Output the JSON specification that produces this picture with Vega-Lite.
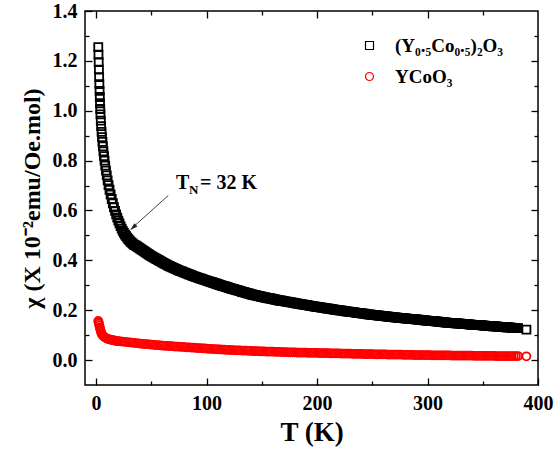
{
  "$schema": "https://vega.github.io/schema/vega-lite/v6.json",
  "width": 453,
  "height": 374,
  "autosize": {"type": "none"},
  "padding": {"left": 85, "top": 11, "right": 17, "bottom": 74},
  "config": {
    "font": "Liberation Serif",
    "view": {"stroke": "#000000", "strokeWidth": 1.5},
    "axis": {"grid": false, "domain": false, "tickColor": "#000000", "tickWidth": 1.3, "labelColor": "#000000", "labelFont": "Liberation Serif", "labelFontWeight": "bold", "labelFontSize": 20, "titleFont": "Liberation Serif", "titleFontWeight": "bold", "titleColor": "#000000", "labelFlush": false, "labelOverlap": false, "labelBound": false}
  },
  "data": {"values": [
{"s":"(Y0.5Co0.5)2O3","T":2.0,"v":1.255},{"s":"(Y0.5Co0.5)2O3","T":2.2,"v":1.225},{"s":"(Y0.5Co0.5)2O3","T":2.4,"v":1.195},{"s":"(Y0.5Co0.5)2O3","T":2.6,"v":1.165},{"s":"(Y0.5Co0.5)2O3","T":2.8,"v":1.135},{"s":"(Y0.5Co0.5)2O3","T":3.0,"v":1.107},{"s":"(Y0.5Co0.5)2O3","T":3.2,"v":1.080},{"s":"(Y0.5Co0.5)2O3","T":3.4,"v":1.055},{"s":"(Y0.5Co0.5)2O3","T":3.6,"v":1.030},{"s":"(Y0.5Co0.5)2O3","T":3.8,"v":1.007},
{"s":"(Y0.5Co0.5)2O3","T":4.0,"v":0.985},{"s":"(Y0.5Co0.5)2O3","T":4.3,"v":0.960},{"s":"(Y0.5Co0.5)2O3","T":4.6,"v":0.938},{"s":"(Y0.5Co0.5)2O3","T":5.0,"v":0.915},{"s":"(Y0.5Co0.5)2O3","T":5.4,"v":0.894},{"s":"(Y0.5Co0.5)2O3","T":5.8,"v":0.875},{"s":"(Y0.5Co0.5)2O3","T":6.2,"v":0.857},{"s":"(Y0.5Co0.5)2O3","T":6.7,"v":0.837},{"s":"(Y0.5Co0.5)2O3","T":7.2,"v":0.818},{"s":"(Y0.5Co0.5)2O3","T":7.7,"v":0.800},
{"s":"(Y0.5Co0.5)2O3","T":8.3,"v":0.780},{"s":"(Y0.5Co0.5)2O3","T":9.0,"v":0.760},{"s":"(Y0.5Co0.5)2O3","T":9.7,"v":0.741},{"s":"(Y0.5Co0.5)2O3","T":10.5,"v":0.721},{"s":"(Y0.5Co0.5)2O3","T":11.3,"v":0.702},{"s":"(Y0.5Co0.5)2O3","T":12.2,"v":0.683},{"s":"(Y0.5Co0.5)2O3","T":13.2,"v":0.664},{"s":"(Y0.5Co0.5)2O3","T":14.2,"v":0.646},{"s":"(Y0.5Co0.5)2O3","T":15.2,"v":0.629},{"s":"(Y0.5Co0.5)2O3","T":16.2,"v":0.613},
{"s":"(Y0.5Co0.5)2O3","T":17.2,"v":0.598},{"s":"(Y0.5Co0.5)2O3","T":18.2,"v":0.584},{"s":"(Y0.5Co0.5)2O3","T":19.2,"v":0.571},{"s":"(Y0.5Co0.5)2O3","T":20.2,"v":0.559},{"s":"(Y0.5Co0.5)2O3","T":21.2,"v":0.548},{"s":"(Y0.5Co0.5)2O3","T":22.2,"v":0.537},{"s":"(Y0.5Co0.5)2O3","T":23.2,"v":0.527},{"s":"(Y0.5Co0.5)2O3","T":24.2,"v":0.518},{"s":"(Y0.5Co0.5)2O3","T":25.2,"v":0.510},{"s":"(Y0.5Co0.5)2O3","T":26.2,"v":0.503},
{"s":"(Y0.5Co0.5)2O3","T":27.2,"v":0.497},{"s":"(Y0.5Co0.5)2O3","T":28.2,"v":0.491},{"s":"(Y0.5Co0.5)2O3","T":29.2,"v":0.485},{"s":"(Y0.5Co0.5)2O3","T":30.2,"v":0.480},{"s":"(Y0.5Co0.5)2O3","T":31.2,"v":0.475},{"s":"(Y0.5Co0.5)2O3","T":32.2,"v":0.471},{"s":"(Y0.5Co0.5)2O3","T":33.2,"v":0.467},{"s":"(Y0.5Co0.5)2O3","T":34.2,"v":0.463},
{"s":"(Y0.5Co0.5)2O3","T":35,"v":0.461},{"s":"(Y0.5Co0.5)2O3","T":36,"v":0.459},{"s":"(Y0.5Co0.5)2O3","T":37,"v":0.456},{"s":"(Y0.5Co0.5)2O3","T":38,"v":0.453},{"s":"(Y0.5Co0.5)2O3","T":39,"v":0.450},{"s":"(Y0.5Co0.5)2O3","T":40,"v":0.447},{"s":"(Y0.5Co0.5)2O3","T":41,"v":0.444},{"s":"(Y0.5Co0.5)2O3","T":42,"v":0.441},{"s":"(Y0.5Co0.5)2O3","T":43,"v":0.438},{"s":"(Y0.5Co0.5)2O3","T":44,"v":0.435},
{"s":"(Y0.5Co0.5)2O3","T":45,"v":0.432},{"s":"(Y0.5Co0.5)2O3","T":46,"v":0.429},{"s":"(Y0.5Co0.5)2O3","T":47,"v":0.426},{"s":"(Y0.5Co0.5)2O3","T":48,"v":0.423},{"s":"(Y0.5Co0.5)2O3","T":49,"v":0.420},{"s":"(Y0.5Co0.5)2O3","T":50,"v":0.417},{"s":"(Y0.5Co0.5)2O3","T":51,"v":0.415},{"s":"(Y0.5Co0.5)2O3","T":52,"v":0.412},{"s":"(Y0.5Co0.5)2O3","T":53,"v":0.410},{"s":"(Y0.5Co0.5)2O3","T":54,"v":0.407},
{"s":"(Y0.5Co0.5)2O3","T":55,"v":0.405},{"s":"(Y0.5Co0.5)2O3","T":56,"v":0.402},{"s":"(Y0.5Co0.5)2O3","T":57,"v":0.400},{"s":"(Y0.5Co0.5)2O3","T":58,"v":0.397},{"s":"(Y0.5Co0.5)2O3","T":59,"v":0.395},{"s":"(Y0.5Co0.5)2O3","T":60,"v":0.392},{"s":"(Y0.5Co0.5)2O3","T":61,"v":0.390},{"s":"(Y0.5Co0.5)2O3","T":62,"v":0.387},{"s":"(Y0.5Co0.5)2O3","T":63,"v":0.385},{"s":"(Y0.5Co0.5)2O3","T":64,"v":0.383},
{"s":"(Y0.5Co0.5)2O3","T":65,"v":0.380},{"s":"(Y0.5Co0.5)2O3","T":66,"v":0.378},{"s":"(Y0.5Co0.5)2O3","T":67,"v":0.376},{"s":"(Y0.5Co0.5)2O3","T":68,"v":0.374},{"s":"(Y0.5Co0.5)2O3","T":69,"v":0.372},{"s":"(Y0.5Co0.5)2O3","T":70,"v":0.370},{"s":"(Y0.5Co0.5)2O3","T":71,"v":0.368},{"s":"(Y0.5Co0.5)2O3","T":72,"v":0.366},{"s":"(Y0.5Co0.5)2O3","T":73,"v":0.364},{"s":"(Y0.5Co0.5)2O3","T":74,"v":0.362},
{"s":"(Y0.5Co0.5)2O3","T":75,"v":0.360},{"s":"(Y0.5Co0.5)2O3","T":76,"v":0.358},{"s":"(Y0.5Co0.5)2O3","T":77,"v":0.357},{"s":"(Y0.5Co0.5)2O3","T":78,"v":0.355},{"s":"(Y0.5Co0.5)2O3","T":79,"v":0.353},{"s":"(Y0.5Co0.5)2O3","T":80,"v":0.351},{"s":"(Y0.5Co0.5)2O3","T":81,"v":0.350},{"s":"(Y0.5Co0.5)2O3","T":82,"v":0.348},{"s":"(Y0.5Co0.5)2O3","T":83,"v":0.346},{"s":"(Y0.5Co0.5)2O3","T":84,"v":0.344},
{"s":"(Y0.5Co0.5)2O3","T":85,"v":0.343},{"s":"(Y0.5Co0.5)2O3","T":86,"v":0.341},{"s":"(Y0.5Co0.5)2O3","T":87,"v":0.339},{"s":"(Y0.5Co0.5)2O3","T":88,"v":0.337},{"s":"(Y0.5Co0.5)2O3","T":89,"v":0.336},{"s":"(Y0.5Co0.5)2O3","T":90,"v":0.334},{"s":"(Y0.5Co0.5)2O3","T":91,"v":0.333},{"s":"(Y0.5Co0.5)2O3","T":92,"v":0.331},{"s":"(Y0.5Co0.5)2O3","T":93,"v":0.330},{"s":"(Y0.5Co0.5)2O3","T":94,"v":0.328},
{"s":"(Y0.5Co0.5)2O3","T":95,"v":0.327},{"s":"(Y0.5Co0.5)2O3","T":96,"v":0.325},{"s":"(Y0.5Co0.5)2O3","T":97,"v":0.324},{"s":"(Y0.5Co0.5)2O3","T":98,"v":0.322},{"s":"(Y0.5Co0.5)2O3","T":99,"v":0.321},{"s":"(Y0.5Co0.5)2O3","T":100,"v":0.319},{"s":"(Y0.5Co0.5)2O3","T":101,"v":0.318},{"s":"(Y0.5Co0.5)2O3","T":102,"v":0.316},{"s":"(Y0.5Co0.5)2O3","T":103,"v":0.315},{"s":"(Y0.5Co0.5)2O3","T":104,"v":0.313},
{"s":"(Y0.5Co0.5)2O3","T":105,"v":0.312},{"s":"(Y0.5Co0.5)2O3","T":106,"v":0.310},{"s":"(Y0.5Co0.5)2O3","T":107,"v":0.309},{"s":"(Y0.5Co0.5)2O3","T":108,"v":0.307},{"s":"(Y0.5Co0.5)2O3","T":109,"v":0.306},{"s":"(Y0.5Co0.5)2O3","T":110,"v":0.304},{"s":"(Y0.5Co0.5)2O3","T":111,"v":0.303},{"s":"(Y0.5Co0.5)2O3","T":112,"v":0.301},{"s":"(Y0.5Co0.5)2O3","T":113,"v":0.300},{"s":"(Y0.5Co0.5)2O3","T":114,"v":0.298},
{"s":"(Y0.5Co0.5)2O3","T":115,"v":0.297},{"s":"(Y0.5Co0.5)2O3","T":116,"v":0.296},{"s":"(Y0.5Co0.5)2O3","T":117,"v":0.295},{"s":"(Y0.5Co0.5)2O3","T":118,"v":0.293},{"s":"(Y0.5Co0.5)2O3","T":119,"v":0.292},{"s":"(Y0.5Co0.5)2O3","T":120,"v":0.290},{"s":"(Y0.5Co0.5)2O3","T":121,"v":0.289},{"s":"(Y0.5Co0.5)2O3","T":122,"v":0.287},{"s":"(Y0.5Co0.5)2O3","T":123,"v":0.286},{"s":"(Y0.5Co0.5)2O3","T":124,"v":0.285},
{"s":"(Y0.5Co0.5)2O3","T":125,"v":0.284},{"s":"(Y0.5Co0.5)2O3","T":126,"v":0.282},{"s":"(Y0.5Co0.5)2O3","T":127,"v":0.281},{"s":"(Y0.5Co0.5)2O3","T":128,"v":0.280},{"s":"(Y0.5Co0.5)2O3","T":129,"v":0.279},{"s":"(Y0.5Co0.5)2O3","T":130,"v":0.277},{"s":"(Y0.5Co0.5)2O3","T":131,"v":0.276},{"s":"(Y0.5Co0.5)2O3","T":132,"v":0.274},{"s":"(Y0.5Co0.5)2O3","T":133,"v":0.273},{"s":"(Y0.5Co0.5)2O3","T":134,"v":0.272},
{"s":"(Y0.5Co0.5)2O3","T":135,"v":0.271},{"s":"(Y0.5Co0.5)2O3","T":136,"v":0.269},{"s":"(Y0.5Co0.5)2O3","T":137,"v":0.268},{"s":"(Y0.5Co0.5)2O3","T":138,"v":0.267},{"s":"(Y0.5Co0.5)2O3","T":139,"v":0.266},{"s":"(Y0.5Co0.5)2O3","T":140,"v":0.264},{"s":"(Y0.5Co0.5)2O3","T":141,"v":0.263},{"s":"(Y0.5Co0.5)2O3","T":142,"v":0.262},{"s":"(Y0.5Co0.5)2O3","T":143,"v":0.261},{"s":"(Y0.5Co0.5)2O3","T":144,"v":0.260},
{"s":"(Y0.5Co0.5)2O3","T":145,"v":0.259},{"s":"(Y0.5Co0.5)2O3","T":146,"v":0.258},{"s":"(Y0.5Co0.5)2O3","T":147,"v":0.257},{"s":"(Y0.5Co0.5)2O3","T":148,"v":0.256},{"s":"(Y0.5Co0.5)2O3","T":149,"v":0.255},{"s":"(Y0.5Co0.5)2O3","T":150,"v":0.254},{"s":"(Y0.5Co0.5)2O3","T":151,"v":0.253},{"s":"(Y0.5Co0.5)2O3","T":152,"v":0.252},{"s":"(Y0.5Co0.5)2O3","T":153,"v":0.251},{"s":"(Y0.5Co0.5)2O3","T":154,"v":0.250},
{"s":"(Y0.5Co0.5)2O3","T":155,"v":0.249},{"s":"(Y0.5Co0.5)2O3","T":156,"v":0.248},{"s":"(Y0.5Co0.5)2O3","T":157,"v":0.248},{"s":"(Y0.5Co0.5)2O3","T":158,"v":0.247},{"s":"(Y0.5Co0.5)2O3","T":159,"v":0.246},{"s":"(Y0.5Co0.5)2O3","T":160,"v":0.245},{"s":"(Y0.5Co0.5)2O3","T":161,"v":0.244},{"s":"(Y0.5Co0.5)2O3","T":162,"v":0.243},{"s":"(Y0.5Co0.5)2O3","T":163,"v":0.242},{"s":"(Y0.5Co0.5)2O3","T":164,"v":0.241},
{"s":"(Y0.5Co0.5)2O3","T":165,"v":0.240},{"s":"(Y0.5Co0.5)2O3","T":166,"v":0.239},{"s":"(Y0.5Co0.5)2O3","T":167,"v":0.239},{"s":"(Y0.5Co0.5)2O3","T":168,"v":0.238},{"s":"(Y0.5Co0.5)2O3","T":169,"v":0.237},{"s":"(Y0.5Co0.5)2O3","T":170,"v":0.236},{"s":"(Y0.5Co0.5)2O3","T":171,"v":0.235},{"s":"(Y0.5Co0.5)2O3","T":172,"v":0.234},{"s":"(Y0.5Co0.5)2O3","T":173,"v":0.234},{"s":"(Y0.5Co0.5)2O3","T":174,"v":0.233},
{"s":"(Y0.5Co0.5)2O3","T":175,"v":0.232},{"s":"(Y0.5Co0.5)2O3","T":176,"v":0.231},{"s":"(Y0.5Co0.5)2O3","T":177,"v":0.231},{"s":"(Y0.5Co0.5)2O3","T":178,"v":0.230},{"s":"(Y0.5Co0.5)2O3","T":179,"v":0.229},{"s":"(Y0.5Co0.5)2O3","T":180,"v":0.228},{"s":"(Y0.5Co0.5)2O3","T":181,"v":0.227},{"s":"(Y0.5Co0.5)2O3","T":182,"v":0.226},{"s":"(Y0.5Co0.5)2O3","T":183,"v":0.226},{"s":"(Y0.5Co0.5)2O3","T":184,"v":0.225},
{"s":"(Y0.5Co0.5)2O3","T":185,"v":0.224},{"s":"(Y0.5Co0.5)2O3","T":186,"v":0.223},{"s":"(Y0.5Co0.5)2O3","T":187,"v":0.223},{"s":"(Y0.5Co0.5)2O3","T":188,"v":0.222},{"s":"(Y0.5Co0.5)2O3","T":189,"v":0.221},{"s":"(Y0.5Co0.5)2O3","T":190,"v":0.220},{"s":"(Y0.5Co0.5)2O3","T":191,"v":0.220},{"s":"(Y0.5Co0.5)2O3","T":192,"v":0.219},{"s":"(Y0.5Co0.5)2O3","T":193,"v":0.218},{"s":"(Y0.5Co0.5)2O3","T":194,"v":0.217},
{"s":"(Y0.5Co0.5)2O3","T":195,"v":0.217},{"s":"(Y0.5Co0.5)2O3","T":196,"v":0.216},{"s":"(Y0.5Co0.5)2O3","T":197,"v":0.215},{"s":"(Y0.5Co0.5)2O3","T":198,"v":0.214},{"s":"(Y0.5Co0.5)2O3","T":199,"v":0.214},{"s":"(Y0.5Co0.5)2O3","T":200,"v":0.213},{"s":"(Y0.5Co0.5)2O3","T":201,"v":0.213},{"s":"(Y0.5Co0.5)2O3","T":202,"v":0.212},{"s":"(Y0.5Co0.5)2O3","T":203,"v":0.211},{"s":"(Y0.5Co0.5)2O3","T":204,"v":0.210},
{"s":"(Y0.5Co0.5)2O3","T":205,"v":0.210},{"s":"(Y0.5Co0.5)2O3","T":206,"v":0.209},{"s":"(Y0.5Co0.5)2O3","T":207,"v":0.208},{"s":"(Y0.5Co0.5)2O3","T":208,"v":0.207},{"s":"(Y0.5Co0.5)2O3","T":209,"v":0.207},{"s":"(Y0.5Co0.5)2O3","T":210,"v":0.206},{"s":"(Y0.5Co0.5)2O3","T":211,"v":0.206},{"s":"(Y0.5Co0.5)2O3","T":212,"v":0.205},{"s":"(Y0.5Co0.5)2O3","T":213,"v":0.204},{"s":"(Y0.5Co0.5)2O3","T":214,"v":0.203},
{"s":"(Y0.5Co0.5)2O3","T":215,"v":0.203},{"s":"(Y0.5Co0.5)2O3","T":216,"v":0.202},{"s":"(Y0.5Co0.5)2O3","T":217,"v":0.201},{"s":"(Y0.5Co0.5)2O3","T":218,"v":0.200},{"s":"(Y0.5Co0.5)2O3","T":219,"v":0.200},{"s":"(Y0.5Co0.5)2O3","T":220,"v":0.199},{"s":"(Y0.5Co0.5)2O3","T":221,"v":0.199},{"s":"(Y0.5Co0.5)2O3","T":222,"v":0.198},{"s":"(Y0.5Co0.5)2O3","T":223,"v":0.198},{"s":"(Y0.5Co0.5)2O3","T":224,"v":0.197},
{"s":"(Y0.5Co0.5)2O3","T":225,"v":0.196},{"s":"(Y0.5Co0.5)2O3","T":226,"v":0.195},{"s":"(Y0.5Co0.5)2O3","T":227,"v":0.195},{"s":"(Y0.5Co0.5)2O3","T":228,"v":0.194},{"s":"(Y0.5Co0.5)2O3","T":229,"v":0.194},{"s":"(Y0.5Co0.5)2O3","T":230,"v":0.193},{"s":"(Y0.5Co0.5)2O3","T":231,"v":0.193},{"s":"(Y0.5Co0.5)2O3","T":232,"v":0.192},{"s":"(Y0.5Co0.5)2O3","T":233,"v":0.192},{"s":"(Y0.5Co0.5)2O3","T":234,"v":0.191},
{"s":"(Y0.5Co0.5)2O3","T":235,"v":0.190},{"s":"(Y0.5Co0.5)2O3","T":236,"v":0.189},{"s":"(Y0.5Co0.5)2O3","T":237,"v":0.189},{"s":"(Y0.5Co0.5)2O3","T":238,"v":0.188},{"s":"(Y0.5Co0.5)2O3","T":239,"v":0.188},{"s":"(Y0.5Co0.5)2O3","T":240,"v":0.187},{"s":"(Y0.5Co0.5)2O3","T":241,"v":0.187},{"s":"(Y0.5Co0.5)2O3","T":242,"v":0.186},{"s":"(Y0.5Co0.5)2O3","T":243,"v":0.186},{"s":"(Y0.5Co0.5)2O3","T":244,"v":0.185},
{"s":"(Y0.5Co0.5)2O3","T":245,"v":0.184},{"s":"(Y0.5Co0.5)2O3","T":246,"v":0.183},{"s":"(Y0.5Co0.5)2O3","T":247,"v":0.183},{"s":"(Y0.5Co0.5)2O3","T":248,"v":0.182},{"s":"(Y0.5Co0.5)2O3","T":249,"v":0.182},{"s":"(Y0.5Co0.5)2O3","T":250,"v":0.181},{"s":"(Y0.5Co0.5)2O3","T":251,"v":0.181},{"s":"(Y0.5Co0.5)2O3","T":252,"v":0.180},{"s":"(Y0.5Co0.5)2O3","T":253,"v":0.180},{"s":"(Y0.5Co0.5)2O3","T":254,"v":0.179},
{"s":"(Y0.5Co0.5)2O3","T":255,"v":0.179},{"s":"(Y0.5Co0.5)2O3","T":256,"v":0.178},{"s":"(Y0.5Co0.5)2O3","T":257,"v":0.178},{"s":"(Y0.5Co0.5)2O3","T":258,"v":0.177},{"s":"(Y0.5Co0.5)2O3","T":259,"v":0.177},{"s":"(Y0.5Co0.5)2O3","T":260,"v":0.176},{"s":"(Y0.5Co0.5)2O3","T":261,"v":0.176},{"s":"(Y0.5Co0.5)2O3","T":262,"v":0.175},{"s":"(Y0.5Co0.5)2O3","T":263,"v":0.175},{"s":"(Y0.5Co0.5)2O3","T":264,"v":0.174},
{"s":"(Y0.5Co0.5)2O3","T":265,"v":0.174},{"s":"(Y0.5Co0.5)2O3","T":266,"v":0.173},{"s":"(Y0.5Co0.5)2O3","T":267,"v":0.173},{"s":"(Y0.5Co0.5)2O3","T":268,"v":0.172},{"s":"(Y0.5Co0.5)2O3","T":269,"v":0.172},{"s":"(Y0.5Co0.5)2O3","T":270,"v":0.171},{"s":"(Y0.5Co0.5)2O3","T":271,"v":0.171},{"s":"(Y0.5Co0.5)2O3","T":272,"v":0.170},{"s":"(Y0.5Co0.5)2O3","T":273,"v":0.170},{"s":"(Y0.5Co0.5)2O3","T":274,"v":0.169},
{"s":"(Y0.5Co0.5)2O3","T":275,"v":0.169},{"s":"(Y0.5Co0.5)2O3","T":276,"v":0.169},{"s":"(Y0.5Co0.5)2O3","T":277,"v":0.168},{"s":"(Y0.5Co0.5)2O3","T":278,"v":0.168},{"s":"(Y0.5Co0.5)2O3","T":279,"v":0.167},{"s":"(Y0.5Co0.5)2O3","T":280,"v":0.167},{"s":"(Y0.5Co0.5)2O3","T":281,"v":0.166},{"s":"(Y0.5Co0.5)2O3","T":282,"v":0.166},{"s":"(Y0.5Co0.5)2O3","T":283,"v":0.165},{"s":"(Y0.5Co0.5)2O3","T":284,"v":0.165},
{"s":"(Y0.5Co0.5)2O3","T":285,"v":0.164},{"s":"(Y0.5Co0.5)2O3","T":286,"v":0.164},{"s":"(Y0.5Co0.5)2O3","T":287,"v":0.164},{"s":"(Y0.5Co0.5)2O3","T":288,"v":0.164},{"s":"(Y0.5Co0.5)2O3","T":289,"v":0.163},{"s":"(Y0.5Co0.5)2O3","T":290,"v":0.163},{"s":"(Y0.5Co0.5)2O3","T":291,"v":0.162},{"s":"(Y0.5Co0.5)2O3","T":292,"v":0.162},{"s":"(Y0.5Co0.5)2O3","T":293,"v":0.161},{"s":"(Y0.5Co0.5)2O3","T":294,"v":0.161},
{"s":"(Y0.5Co0.5)2O3","T":295,"v":0.160},{"s":"(Y0.5Co0.5)2O3","T":296,"v":0.160},{"s":"(Y0.5Co0.5)2O3","T":297,"v":0.159},{"s":"(Y0.5Co0.5)2O3","T":298,"v":0.159},{"s":"(Y0.5Co0.5)2O3","T":299,"v":0.158},{"s":"(Y0.5Co0.5)2O3","T":300,"v":0.158},{"s":"(Y0.5Co0.5)2O3","T":301,"v":0.157},{"s":"(Y0.5Co0.5)2O3","T":302,"v":0.157},{"s":"(Y0.5Co0.5)2O3","T":303,"v":0.157},{"s":"(Y0.5Co0.5)2O3","T":304,"v":0.157},
{"s":"(Y0.5Co0.5)2O3","T":305,"v":0.156},{"s":"(Y0.5Co0.5)2O3","T":306,"v":0.156},{"s":"(Y0.5Co0.5)2O3","T":307,"v":0.155},{"s":"(Y0.5Co0.5)2O3","T":308,"v":0.155},{"s":"(Y0.5Co0.5)2O3","T":309,"v":0.154},{"s":"(Y0.5Co0.5)2O3","T":310,"v":0.154},{"s":"(Y0.5Co0.5)2O3","T":311,"v":0.153},{"s":"(Y0.5Co0.5)2O3","T":312,"v":0.153},{"s":"(Y0.5Co0.5)2O3","T":313,"v":0.152},{"s":"(Y0.5Co0.5)2O3","T":314,"v":0.152},
{"s":"(Y0.5Co0.5)2O3","T":315,"v":0.151},{"s":"(Y0.5Co0.5)2O3","T":316,"v":0.151},{"s":"(Y0.5Co0.5)2O3","T":317,"v":0.150},{"s":"(Y0.5Co0.5)2O3","T":318,"v":0.150},{"s":"(Y0.5Co0.5)2O3","T":319,"v":0.149},{"s":"(Y0.5Co0.5)2O3","T":320,"v":0.149},{"s":"(Y0.5Co0.5)2O3","T":321,"v":0.149},{"s":"(Y0.5Co0.5)2O3","T":322,"v":0.149},{"s":"(Y0.5Co0.5)2O3","T":323,"v":0.148},{"s":"(Y0.5Co0.5)2O3","T":324,"v":0.148},
{"s":"(Y0.5Co0.5)2O3","T":325,"v":0.147},{"s":"(Y0.5Co0.5)2O3","T":326,"v":0.147},{"s":"(Y0.5Co0.5)2O3","T":327,"v":0.147},{"s":"(Y0.5Co0.5)2O3","T":328,"v":0.147},{"s":"(Y0.5Co0.5)2O3","T":329,"v":0.146},{"s":"(Y0.5Co0.5)2O3","T":330,"v":0.146},{"s":"(Y0.5Co0.5)2O3","T":331,"v":0.145},{"s":"(Y0.5Co0.5)2O3","T":332,"v":0.145},{"s":"(Y0.5Co0.5)2O3","T":333,"v":0.144},{"s":"(Y0.5Co0.5)2O3","T":334,"v":0.144},
{"s":"(Y0.5Co0.5)2O3","T":335,"v":0.144},{"s":"(Y0.5Co0.5)2O3","T":336,"v":0.144},{"s":"(Y0.5Co0.5)2O3","T":337,"v":0.143},{"s":"(Y0.5Co0.5)2O3","T":338,"v":0.143},{"s":"(Y0.5Co0.5)2O3","T":339,"v":0.142},{"s":"(Y0.5Co0.5)2O3","T":340,"v":0.142},{"s":"(Y0.5Co0.5)2O3","T":341,"v":0.141},{"s":"(Y0.5Co0.5)2O3","T":342,"v":0.141},{"s":"(Y0.5Co0.5)2O3","T":343,"v":0.141},{"s":"(Y0.5Co0.5)2O3","T":344,"v":0.141},
{"s":"(Y0.5Co0.5)2O3","T":345,"v":0.140},{"s":"(Y0.5Co0.5)2O3","T":346,"v":0.140},{"s":"(Y0.5Co0.5)2O3","T":347,"v":0.140},{"s":"(Y0.5Co0.5)2O3","T":348,"v":0.140},{"s":"(Y0.5Co0.5)2O3","T":349,"v":0.139},{"s":"(Y0.5Co0.5)2O3","T":350,"v":0.139},{"s":"(Y0.5Co0.5)2O3","T":351,"v":0.138},{"s":"(Y0.5Co0.5)2O3","T":352,"v":0.138},{"s":"(Y0.5Co0.5)2O3","T":353,"v":0.137},{"s":"(Y0.5Co0.5)2O3","T":354,"v":0.137},
{"s":"(Y0.5Co0.5)2O3","T":355,"v":0.137},{"s":"(Y0.5Co0.5)2O3","T":356,"v":0.137},{"s":"(Y0.5Co0.5)2O3","T":357,"v":0.136},{"s":"(Y0.5Co0.5)2O3","T":358,"v":0.136},{"s":"(Y0.5Co0.5)2O3","T":359,"v":0.135},{"s":"(Y0.5Co0.5)2O3","T":360,"v":0.135},{"s":"(Y0.5Co0.5)2O3","T":361,"v":0.135},{"s":"(Y0.5Co0.5)2O3","T":362,"v":0.135},{"s":"(Y0.5Co0.5)2O3","T":363,"v":0.134},{"s":"(Y0.5Co0.5)2O3","T":364,"v":0.134},
{"s":"(Y0.5Co0.5)2O3","T":365,"v":0.133},{"s":"(Y0.5Co0.5)2O3","T":366,"v":0.133},{"s":"(Y0.5Co0.5)2O3","T":367,"v":0.133},{"s":"(Y0.5Co0.5)2O3","T":368,"v":0.133},{"s":"(Y0.5Co0.5)2O3","T":369,"v":0.132},{"s":"(Y0.5Co0.5)2O3","T":370,"v":0.132},{"s":"(Y0.5Co0.5)2O3","T":371,"v":0.131},{"s":"(Y0.5Co0.5)2O3","T":372,"v":0.131},{"s":"(Y0.5Co0.5)2O3","T":373,"v":0.131},{"s":"(Y0.5Co0.5)2O3","T":374,"v":0.131},
{"s":"(Y0.5Co0.5)2O3","T":375,"v":0.130},{"s":"(Y0.5Co0.5)2O3","T":376,"v":0.130},{"s":"(Y0.5Co0.5)2O3","T":377,"v":0.129},{"s":"(Y0.5Co0.5)2O3","T":378,"v":0.129},{"s":"(Y0.5Co0.5)2O3","T":379,"v":0.128},{"s":"(Y0.5Co0.5)2O3","T":380,"v":0.128},{"s":"(Y0.5Co0.5)2O3","T":381,"v":0.128},{"s":"(Y0.5Co0.5)2O3","T":382,"v":0.128},{"s":"(Y0.5Co0.5)2O3","T":389.5,"v":0.122},
{"s":"YCoO3","T":2.0,"v":0.157},{"s":"YCoO3","T":2.3,"v":0.152},{"s":"YCoO3","T":2.6,"v":0.146},{"s":"YCoO3","T":3.0,"v":0.139},{"s":"YCoO3","T":3.4,"v":0.131},{"s":"YCoO3","T":3.8,"v":0.124},{"s":"YCoO3","T":4.3,"v":0.116},{"s":"YCoO3","T":4.8,"v":0.109},{"s":"YCoO3","T":5.4,"v":0.103},{"s":"YCoO3","T":6.1,"v":0.098},
{"s":"YCoO3","T":7.0,"v":0.094},{"s":"YCoO3","T":8.0,"v":0.091},{"s":"YCoO3","T":9.0,"v":0.088},{"s":"YCoO3","T":10,"v":0.086},{"s":"YCoO3","T":11,"v":0.084},{"s":"YCoO3","T":12,"v":0.083},{"s":"YCoO3","T":13,"v":0.082},{"s":"YCoO3","T":14,"v":0.081},{"s":"YCoO3","T":15,"v":0.080},{"s":"YCoO3","T":16,"v":0.079},
{"s":"YCoO3","T":17,"v":0.078},{"s":"YCoO3","T":18,"v":0.077},{"s":"YCoO3","T":19,"v":0.077},{"s":"YCoO3","T":20,"v":0.076},{"s":"YCoO3","T":22,"v":0.075},{"s":"YCoO3","T":24,"v":0.074},{"s":"YCoO3","T":26,"v":0.073},{"s":"YCoO3","T":28,"v":0.072},{"s":"YCoO3","T":30,"v":0.071},
{"s":"YCoO3","T":32,"v":0.070},{"s":"YCoO3","T":34,"v":0.069},{"s":"YCoO3","T":36,"v":0.068},{"s":"YCoO3","T":38,"v":0.067},{"s":"YCoO3","T":40,"v":0.066},{"s":"YCoO3","T":42,"v":0.065},{"s":"YCoO3","T":44,"v":0.064},{"s":"YCoO3","T":46,"v":0.064},{"s":"YCoO3","T":48,"v":0.063},{"s":"YCoO3","T":50,"v":0.062},
{"s":"YCoO3","T":52,"v":0.061},{"s":"YCoO3","T":54,"v":0.060},{"s":"YCoO3","T":56,"v":0.060},{"s":"YCoO3","T":58,"v":0.059},{"s":"YCoO3","T":60,"v":0.058},{"s":"YCoO3","T":62,"v":0.057},{"s":"YCoO3","T":64,"v":0.057},{"s":"YCoO3","T":66,"v":0.056},{"s":"YCoO3","T":68,"v":0.056},{"s":"YCoO3","T":70,"v":0.055},
{"s":"YCoO3","T":72,"v":0.054},{"s":"YCoO3","T":74,"v":0.054},{"s":"YCoO3","T":76,"v":0.053},{"s":"YCoO3","T":78,"v":0.053},{"s":"YCoO3","T":80,"v":0.052},{"s":"YCoO3","T":82,"v":0.051},{"s":"YCoO3","T":84,"v":0.051},{"s":"YCoO3","T":86,"v":0.050},{"s":"YCoO3","T":88,"v":0.050},{"s":"YCoO3","T":90,"v":0.049},
{"s":"YCoO3","T":92,"v":0.048},{"s":"YCoO3","T":94,"v":0.048},{"s":"YCoO3","T":96,"v":0.047},{"s":"YCoO3","T":98,"v":0.047},{"s":"YCoO3","T":100,"v":0.046},{"s":"YCoO3","T":102,"v":0.045},{"s":"YCoO3","T":104,"v":0.045},{"s":"YCoO3","T":106,"v":0.044},{"s":"YCoO3","T":108,"v":0.044},{"s":"YCoO3","T":110,"v":0.043},
{"s":"YCoO3","T":112,"v":0.043},{"s":"YCoO3","T":114,"v":0.042},{"s":"YCoO3","T":116,"v":0.042},{"s":"YCoO3","T":118,"v":0.041},{"s":"YCoO3","T":120,"v":0.041},{"s":"YCoO3","T":122,"v":0.040},{"s":"YCoO3","T":124,"v":0.040},{"s":"YCoO3","T":126,"v":0.039},{"s":"YCoO3","T":128,"v":0.039},{"s":"YCoO3","T":130,"v":0.039},
{"s":"YCoO3","T":132,"v":0.038},{"s":"YCoO3","T":134,"v":0.038},{"s":"YCoO3","T":136,"v":0.038},{"s":"YCoO3","T":138,"v":0.037},{"s":"YCoO3","T":140,"v":0.037},{"s":"YCoO3","T":142,"v":0.036},{"s":"YCoO3","T":144,"v":0.036},{"s":"YCoO3","T":146,"v":0.036},{"s":"YCoO3","T":148,"v":0.035},{"s":"YCoO3","T":150,"v":0.035},
{"s":"YCoO3","T":152,"v":0.035},{"s":"YCoO3","T":154,"v":0.034},{"s":"YCoO3","T":156,"v":0.034},{"s":"YCoO3","T":158,"v":0.034},{"s":"YCoO3","T":160,"v":0.034},{"s":"YCoO3","T":162,"v":0.033},{"s":"YCoO3","T":164,"v":0.033},{"s":"YCoO3","T":166,"v":0.033},{"s":"YCoO3","T":168,"v":0.032},{"s":"YCoO3","T":170,"v":0.032},
{"s":"YCoO3","T":172,"v":0.032},{"s":"YCoO3","T":174,"v":0.031},{"s":"YCoO3","T":176,"v":0.031},{"s":"YCoO3","T":178,"v":0.031},{"s":"YCoO3","T":180,"v":0.031},{"s":"YCoO3","T":182,"v":0.030},{"s":"YCoO3","T":184,"v":0.030},{"s":"YCoO3","T":186,"v":0.030},{"s":"YCoO3","T":188,"v":0.030},{"s":"YCoO3","T":190,"v":0.030},
{"s":"YCoO3","T":192,"v":0.029},{"s":"YCoO3","T":194,"v":0.029},{"s":"YCoO3","T":196,"v":0.029},{"s":"YCoO3","T":198,"v":0.029},{"s":"YCoO3","T":200,"v":0.029},{"s":"YCoO3","T":202,"v":0.028},{"s":"YCoO3","T":204,"v":0.028},{"s":"YCoO3","T":206,"v":0.028},{"s":"YCoO3","T":208,"v":0.028},{"s":"YCoO3","T":210,"v":0.028},
{"s":"YCoO3","T":212,"v":0.027},{"s":"YCoO3","T":214,"v":0.027},{"s":"YCoO3","T":216,"v":0.027},{"s":"YCoO3","T":218,"v":0.027},{"s":"YCoO3","T":220,"v":0.027},{"s":"YCoO3","T":222,"v":0.026},{"s":"YCoO3","T":224,"v":0.026},{"s":"YCoO3","T":226,"v":0.026},{"s":"YCoO3","T":228,"v":0.026},{"s":"YCoO3","T":230,"v":0.026},
{"s":"YCoO3","T":232,"v":0.025},{"s":"YCoO3","T":234,"v":0.025},{"s":"YCoO3","T":236,"v":0.025},{"s":"YCoO3","T":238,"v":0.025},{"s":"YCoO3","T":240,"v":0.025},{"s":"YCoO3","T":242,"v":0.024},{"s":"YCoO3","T":244,"v":0.024},{"s":"YCoO3","T":246,"v":0.024},{"s":"YCoO3","T":248,"v":0.024},{"s":"YCoO3","T":250,"v":0.024},
{"s":"YCoO3","T":252,"v":0.023},{"s":"YCoO3","T":254,"v":0.023},{"s":"YCoO3","T":256,"v":0.023},{"s":"YCoO3","T":258,"v":0.023},{"s":"YCoO3","T":260,"v":0.023},{"s":"YCoO3","T":262,"v":0.023},{"s":"YCoO3","T":264,"v":0.022},{"s":"YCoO3","T":266,"v":0.022},{"s":"YCoO3","T":268,"v":0.022},{"s":"YCoO3","T":270,"v":0.022},
{"s":"YCoO3","T":272,"v":0.022},{"s":"YCoO3","T":274,"v":0.022},{"s":"YCoO3","T":276,"v":0.022},{"s":"YCoO3","T":278,"v":0.021},{"s":"YCoO3","T":280,"v":0.021},{"s":"YCoO3","T":282,"v":0.021},{"s":"YCoO3","T":284,"v":0.021},{"s":"YCoO3","T":286,"v":0.021},{"s":"YCoO3","T":288,"v":0.020},{"s":"YCoO3","T":290,"v":0.020},
{"s":"YCoO3","T":292,"v":0.020},{"s":"YCoO3","T":294,"v":0.020},{"s":"YCoO3","T":296,"v":0.020},{"s":"YCoO3","T":298,"v":0.020},{"s":"YCoO3","T":300,"v":0.020},{"s":"YCoO3","T":302,"v":0.020},{"s":"YCoO3","T":304,"v":0.019},{"s":"YCoO3","T":306,"v":0.019},{"s":"YCoO3","T":308,"v":0.019},{"s":"YCoO3","T":310,"v":0.019},
{"s":"YCoO3","T":312,"v":0.019},{"s":"YCoO3","T":314,"v":0.019},{"s":"YCoO3","T":316,"v":0.019},{"s":"YCoO3","T":318,"v":0.019},{"s":"YCoO3","T":320,"v":0.019},{"s":"YCoO3","T":322,"v":0.018},{"s":"YCoO3","T":324,"v":0.018},{"s":"YCoO3","T":326,"v":0.018},{"s":"YCoO3","T":328,"v":0.018},{"s":"YCoO3","T":330,"v":0.018},
{"s":"YCoO3","T":332,"v":0.018},{"s":"YCoO3","T":334,"v":0.018},{"s":"YCoO3","T":336,"v":0.018},{"s":"YCoO3","T":338,"v":0.018},{"s":"YCoO3","T":340,"v":0.018},{"s":"YCoO3","T":342,"v":0.017},{"s":"YCoO3","T":344,"v":0.017},{"s":"YCoO3","T":346,"v":0.017},{"s":"YCoO3","T":348,"v":0.017},{"s":"YCoO3","T":350,"v":0.017},
{"s":"YCoO3","T":352,"v":0.017},{"s":"YCoO3","T":354,"v":0.017},{"s":"YCoO3","T":356,"v":0.017},{"s":"YCoO3","T":358,"v":0.017},{"s":"YCoO3","T":360,"v":0.017},{"s":"YCoO3","T":362,"v":0.016},{"s":"YCoO3","T":364,"v":0.016},{"s":"YCoO3","T":366,"v":0.016},{"s":"YCoO3","T":368,"v":0.016},{"s":"YCoO3","T":370,"v":0.016},
{"s":"YCoO3","T":372,"v":0.016},{"s":"YCoO3","T":374,"v":0.016},{"s":"YCoO3","T":376,"v":0.016},{"s":"YCoO3","T":378,"v":0.016},{"s":"YCoO3","T":380,"v":0.016},{"s":"YCoO3","T":382,"v":0.016},{"s":"YCoO3","T":389.5,"v":0.015}
  ]},
  "resolve": {"axis": {"x": "independent", "y": "independent"}},
  "layer": [
    {
      "mark": {"type": "point", "filled": false, "opacity": 1, "strokeWidth": 1.8, "size": 64},
      "encoding": {
        "x": {"field": "T", "type": "quantitative", "scale": {"domain": [-10, 400], "nice": false, "zero": false},
              "axis": {"orient": "bottom", "values": [0, 100, 200, 300, 400], "tickSize": -7, "labelPadding": 15, "title": "T (K)", "titleFontSize": 27, "titlePadding": 6}},
        "y": {"field": "v", "type": "quantitative", "scale": {"domain": [-0.1, 1.4], "nice": false, "zero": false},
              "axis": {"orient": "left", "values": [0, 0.2, 0.4, 0.6, 0.8, 1.0, 1.2, 1.4], "format": ".1f", "tickSize": -7, "labelPadding": 15, "title": "χ (X 10⁻²emu/Oe.mol)", "titleFontSize": 24, "titlePadding": 8}},
        "color": {"field": "s", "type": "nominal", "scale": {"domain": ["(Y0.5Co0.5)2O3", "YCoO3"], "range": ["#000000", "#ff0000"]},
                  "legend": {"orient": "none", "legendX": 275, "legendY": 25, "title": null, "padding": 0, "labelFont": "Liberation Serif", "labelFontWeight": "bold", "labelFontSize": 19, "labelOffset": 16, "rowPadding": 11, "symbolSize": 64, "symbolStrokeWidth": 1.2,
                             "labelExpr": "datum.value == 'YCoO3' ? '\u00a0YCoO₃' : '(Y₀.₅Co₀.₅)₂O₃'",
                             "encode": {"labels": {"update": {"fill": {"signal": "datum.value == 'YCoO3' ? '#ff0000' : '#000000'"}}}}}},
        "shape": {"field": "s", "type": "nominal", "scale": {"domain": ["(Y0.5Co0.5)2O3", "YCoO3"], "range": ["square", "circle"]}}
      }
    },
    {
      "data": {"values": [{}]},
      "mark": {"type": "point", "opacity": 0},
      "encoding": {
        "x": {"datum": 0, "type": "quantitative", "scale": {"domain": [-10, 400], "nice": false, "zero": false},
              "axis": {"orient": "bottom", "values": [50, 150, 250, 350], "tickSize": -4, "labels": false, "title": null}},
        "y": {"datum": 0, "type": "quantitative", "scale": {"domain": [-0.1, 1.4], "nice": false, "zero": false},
              "axis": {"orient": "left", "values": [0.1, 0.3, 0.5, 0.7, 0.9, 1.1, 1.3], "tickSize": -4, "labels": false, "title": null}}
      }
    },
    {
      "data": {"values": [{}]},
      "mark": {"type": "point", "opacity": 0},
      "encoding": {
        "x": {"datum": 0, "type": "quantitative", "scale": {"domain": [-10, 400], "nice": false, "zero": false},
              "axis": {"orient": "top", "values": [0, 100, 200, 300], "tickSize": -7, "labels": false, "title": null}},
        "y": {"datum": 0, "type": "quantitative", "scale": {"domain": [-0.1, 1.4], "nice": false, "zero": false},
              "axis": {"orient": "right", "values": [0, 0.2, 0.4, 0.6, 0.8, 1.0, 1.2], "tickSize": -7, "labels": false, "title": null}}
      }
    },
    {
      "data": {"values": [{}]},
      "mark": {"type": "point", "opacity": 0},
      "encoding": {
        "x": {"datum": 0, "type": "quantitative", "scale": {"domain": [-10, 400], "nice": false, "zero": false},
              "axis": {"orient": "top", "values": [50, 150, 250, 350], "tickSize": -4, "labels": false, "title": null}},
        "y": {"datum": 0, "type": "quantitative", "scale": {"domain": [-0.1, 1.4], "nice": false, "zero": false},
              "axis": {"orient": "right", "values": [0.1, 0.3, 0.5, 0.7, 0.9, 1.1, 1.3], "tickSize": -4, "labels": false, "title": null}}
      }
    },
    {
      "data": {"values": [{}]},
      "mark": {"type": "rule", "color": "#444444", "strokeWidth": 1},
      "encoding": {
        "x": {"datum": 65.4, "type": "quantitative", "axis": null},
        "y": {"datum": 0.66, "type": "quantitative", "axis": null},
        "x2": {"datum": 32.5},
        "y2": {"datum": 0.529}
      }
    },
    {
      "data": {"values": [{}]},
      "mark": {"type": "point", "shape": "M0,-1L0.55,1L-0.55,1Z", "filled": true, "color": "#222222", "opacity": 1, "size": 64, "angle": 227.6},
      "encoding": {
        "x": {"datum": 33.4, "type": "quantitative", "axis": null},
        "y": {"datum": 0.531, "type": "quantitative", "axis": null}
      }
    },
    {
      "data": {"values": [{}]},
      "mark": {"type": "text", "text": "T", "font": "Liberation Serif", "fontWeight": "bold", "fontSize": 20, "align": "left", "baseline": "alphabetic", "color": "#000000"},
      "encoding": {
        "x": {"datum": 72.4, "type": "quantitative", "axis": null},
        "y": {"datum": 0.687, "type": "quantitative", "axis": null}
      }
    },
    {
      "data": {"values": [{}]},
      "mark": {"type": "text", "text": "N", "font": "Liberation Serif", "fontWeight": "bold", "fontSize": 13, "align": "left", "baseline": "alphabetic", "color": "#000000"},
      "encoding": {
        "x": {"datum": 84.2, "type": "quantitative", "axis": null},
        "y": {"datum": 0.667, "type": "quantitative", "axis": null}
      }
    },
    {
      "data": {"values": [{}]},
      "mark": {"type": "text", "text": "= 32 K", "font": "Liberation Serif", "fontWeight": "bold", "fontSize": 20, "align": "left", "baseline": "alphabetic", "color": "#000000"},
      "encoding": {
        "x": {"datum": 94.1, "type": "quantitative", "axis": null},
        "y": {"datum": 0.687, "type": "quantitative", "axis": null}
      }
    }
  ]
}
